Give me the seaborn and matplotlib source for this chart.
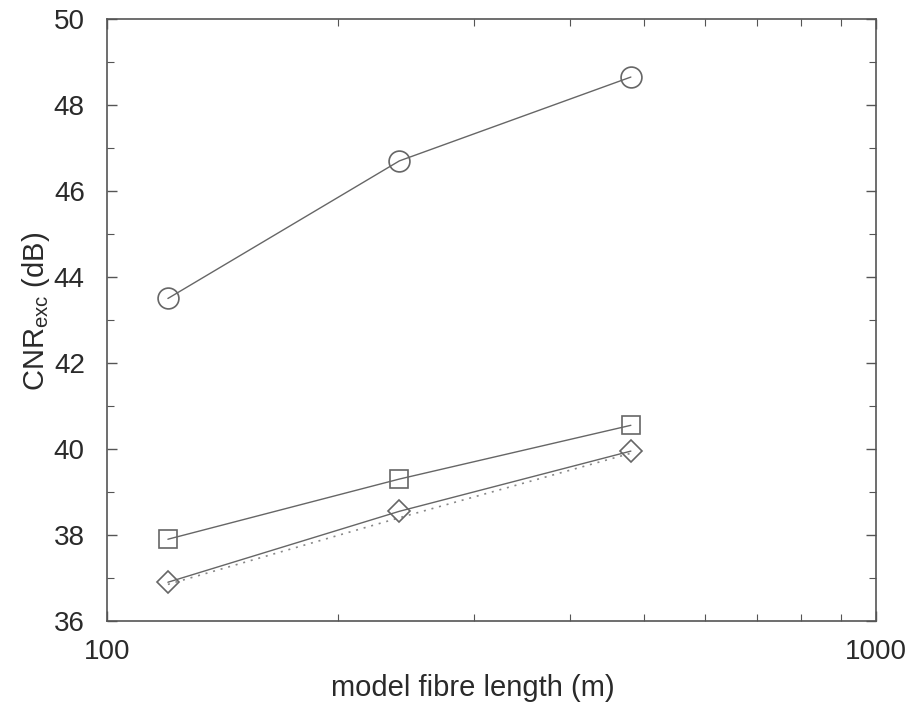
import matplotlib
matplotlib.use("Agg")
import matplotlib.pyplot as plt
import seaborn as sns
import pandas as pd
from matplotlib.ticker import LogLocator, MultipleLocator, FixedLocator, NullFormatter

# Data
fibre_length = [120, 240, 480]
cnr_circle = [43.5, 46.7, 48.65]
cnr_square = [37.9, 39.3, 40.55]
cnr_diamond = [36.9, 38.55, 39.95]
cnr_dotted = [36.85, 38.4, 39.9]
x_ticks = [100, 1000]
y_ticks = [36, 38, 40, 42, 44, 46, 48, 50]

sns.set_style("ticks")
plt.rcParams['font.family'] = ['Liberation Sans', 'DejaVu Sans']
plt.rcParams['mathtext.fontset'] = 'custom'
plt.rcParams['mathtext.rm'] = 'Liberation Sans'
plt.rcParams['mathtext.it'] = 'Liberation Sans'

fig = plt.figure(figsize=(9.1, 7.04), dpi=100)
ax = fig.add_axes([0.1176, 0.118, 0.845, 0.855])

line_col = '#666666'
df = pd.DataFrame({'x': fibre_length, 'c': cnr_circle, 's': cnr_square,
                   'd': cnr_diamond, 'dot': cnr_dotted})

sns.lineplot(data=df, x='x', y='dot', ax=ax, color='#888888', lw=1.2,
             linestyle=(0, (1.2, 3.5)))
sns.lineplot(data=df, x='x', y='c', ax=ax, color=line_col, lw=1.0,
             marker='o', markersize=15, markerfacecolor='none',
             markeredgecolor=line_col, markeredgewidth=1.2)
sns.lineplot(data=df, x='x', y='s', ax=ax, color=line_col, lw=1.0,
             marker='s', markersize=13, markerfacecolor='none',
             markeredgecolor=line_col, markeredgewidth=1.2)
sns.lineplot(data=df, x='x', y='d', ax=ax, color=line_col, lw=1.0,
             marker='D', markersize=11.5, markerfacecolor='none',
             markeredgecolor=line_col, markeredgewidth=1.2)

ax.set_xscale('log')
ax.set_xlim(100, 1000)
ax.set_ylim(36, 50)
ax.xaxis.set_major_locator(FixedLocator(x_ticks))
ax.set_xticklabels([str(t) for t in x_ticks])
ax.xaxis.set_minor_locator(LogLocator(base=10, subs=range(2, 10)))
ax.xaxis.set_minor_formatter(NullFormatter())
ax.yaxis.set_major_locator(FixedLocator(y_ticks))
ax.set_yticklabels([str(t) for t in y_ticks])
ax.yaxis.set_minor_locator(MultipleLocator(1))

ax.tick_params(which='both', direction='in', top=True, right=True,
               colors='#555555', labelcolor='#2a2a2a', labelsize=20)
ax.tick_params(which='major', length=7, width=1.0)
ax.tick_params(which='minor', length=5, width=0.8)
ax.tick_params(axis='y', which='major', pad=16)
ax.tick_params(axis='x', which='major', pad=13)
for sp in ax.spines.values():
    sp.set_color('#555555')
    sp.set_linewidth(1.2)

ax.set_xlabel('model fibre length (m)', fontsize=21, color='#2a2a2a')
ax.set_ylabel(r'CNR$_{\mathrm{exc}}$ (dB)', fontsize=21, color='#2a2a2a')
ax.xaxis.set_label_coords(0.476, -0.088)
ax.yaxis.set_label_coords(-0.072, 0.515)

fig.savefig('out.png', dpi=100)
